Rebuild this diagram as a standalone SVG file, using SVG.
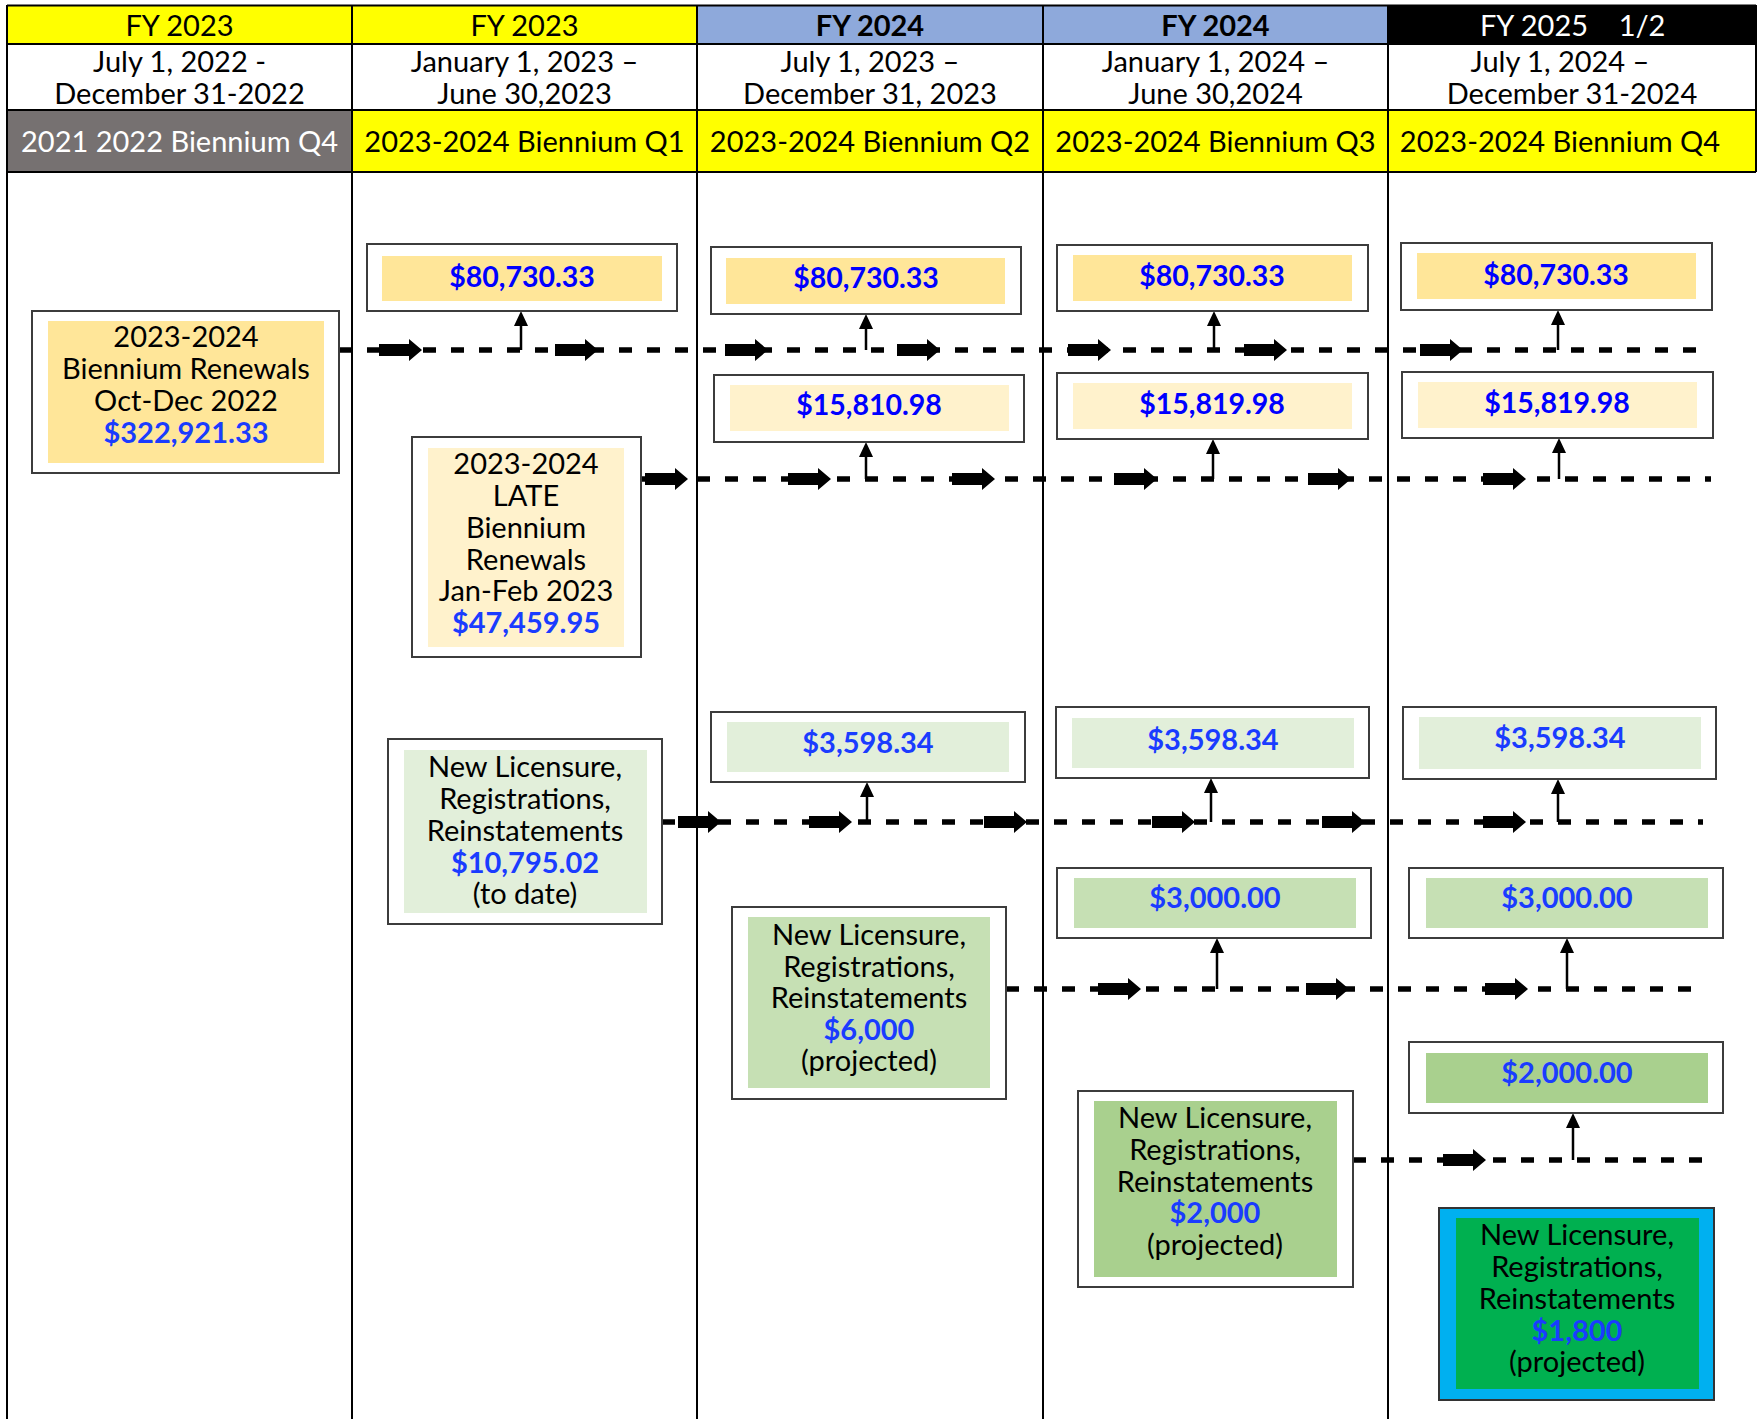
<svg xmlns="http://www.w3.org/2000/svg" xmlns:xlink="http://www.w3.org/1999/xlink" width="1758" height="1419" viewBox="0 0 1758 1419">
<style>
.t{font-family:Lato,"Open Sans","DejaVu Sans",sans-serif;font-size:29px;text-anchor:middle;fill:#000}
.h{font-size:29px}
.b{font-weight:bold}
.w{fill:#fff}
.a1{font-weight:bold;font-size:28.5px;fill:#0000FF}
.a2{font-weight:bold;font-size:29px;fill:#1A3CFF}
.box{fill:#fff;stroke:#3c3c3c;stroke-width:2}
.dash{stroke:#000;stroke-width:5.5;stroke-dasharray:13 15;fill:none}
.vl{stroke:#000;stroke-width:2.5;fill:none}
.grid{stroke:#000;stroke-width:2;fill:none}
</style>
<defs>
<path id="blk" d="M0,-6 H30 V-11 L43,0 L30,11 V6 H0 Z" fill="#000"/>
<path id="up" d="M0,0 L-7,15 L7,15 Z" fill="#000"/>
</defs>
<rect x="0" y="0" width="1758" height="1419" fill="#fff"/>
<g id="header">
<rect x="7" y="5" width="345" height="39" fill="#FFFF00"/>
<rect x="352" y="5" width="345" height="39" fill="#FFFF00"/>
<rect x="697" y="5" width="346" height="39" fill="#8EA9DB"/>
<rect x="1043" y="5" width="345" height="39" fill="#8EA9DB"/>
<rect x="1388" y="5" width="368" height="39" fill="#000"/>
<rect x="7" y="110" width="345" height="62" fill="#767171"/>
<rect x="352" y="110" width="1404" height="62" fill="#FFFF00"/>
<text class="t h" x="179.5" y="36">FY 2023</text>
<text class="t h" x="524.5" y="36">FY 2023</text>
<text class="t h b" x="870" y="36">FY 2024</text>
<text class="t h b" x="1215.5" y="36">FY 2024</text>
<text class="t h w"><tspan x="1534" y="36">FY 2025</tspan><tspan x="1642" y="36">1/2</tspan></text>
<text class="t h"><tspan x="179.5" y="72">July 1, 2022 -</tspan><tspan x="179.5" y="103.5">December 31-2022</tspan></text>
<text class="t h"><tspan x="524.5" y="72">January 1, 2023 –</tspan><tspan x="524.5" y="103.5">June 30,2023</tspan></text>
<text class="t h"><tspan x="870" y="72">July 1, 2023 –</tspan><tspan x="870" y="103.5">December 31, 2023</tspan></text>
<text class="t h"><tspan x="1215.5" y="72">January 1, 2024 –</tspan><tspan x="1215.5" y="103.5">June 30,2024</tspan></text>
<text class="t h"><tspan x="1560" y="72">July 1, 2024 –</tspan><tspan x="1572" y="103.5">December 31-2024</tspan></text>
<text class="t h w" x="179.5" y="152">2021 2022 Biennium Q4</text>
<text class="t h" x="524.5" y="152">2023-2024 Biennium Q1</text>
<text class="t h" x="870" y="152">2023-2024 Biennium Q2</text>
<text class="t h" x="1215.5" y="152">2023-2024 Biennium Q3</text>
<text class="t h" x="1560" y="152">2023-2024 Biennium Q4</text>
<path class="grid" stroke-width="3" d="M7,5.5 H1756"/>
<path class="grid" d="M7,44 H1756 M7,110 H1756 M7,172 H1756 M1756,5 V172"/>
<path class="grid" d="M7,5 V1419 M352,5 V1419 M697,5 V1419 M1043,5 V1419 M1388,5 V1419"/>
</g>
<g id="connectors">
<path class="dash" d="M339,350 H1711"/>
<path class="dash" d="M641,479 H1711"/>
<path class="dash" d="M662,822 H1703"/>
<path class="dash" d="M1006,989 H1696"/>
<path class="dash" d="M1353,1160 H1705"/>
<use xlink:href="#blk" x="379" y="350"/><use xlink:href="#blk" x="555" y="350"/><use xlink:href="#blk" x="725" y="350"/><use xlink:href="#blk" x="897" y="350"/><use xlink:href="#blk" x="1068" y="350"/><use xlink:href="#blk" x="1244" y="350"/><use xlink:href="#blk" x="1420" y="350"/>
<use xlink:href="#blk" x="645" y="479"/><use xlink:href="#blk" x="788" y="479"/><use xlink:href="#blk" x="952" y="479"/><use xlink:href="#blk" x="1114" y="479"/><use xlink:href="#blk" x="1308" y="479"/><use xlink:href="#blk" x="1483" y="479"/>
<use xlink:href="#blk" x="678" y="822"/><use xlink:href="#blk" x="809" y="822"/><use xlink:href="#blk" x="984" y="822"/><use xlink:href="#blk" x="1152" y="822"/><use xlink:href="#blk" x="1322" y="822"/><use xlink:href="#blk" x="1483" y="822"/>
<use xlink:href="#blk" x="1098" y="989"/><use xlink:href="#blk" x="1306" y="989"/><use xlink:href="#blk" x="1485" y="989"/>
<use xlink:href="#blk" x="1443" y="1160"/>
<path class="vl" d="M521,350 V320 M866,350 V323 M1214,350 V320 M1558,350 V319"/>
<use xlink:href="#up" x="521" y="311"/><use xlink:href="#up" x="866" y="314"/><use xlink:href="#up" x="1214" y="311"/><use xlink:href="#up" x="1558" y="310"/>
<path class="vl" d="M866,479 V451 M1213,479 V448 M1559,479 V447"/>
<use xlink:href="#up" x="866" y="442"/><use xlink:href="#up" x="1213" y="439"/><use xlink:href="#up" x="1559" y="438"/>
<path class="vl" d="M867,822 V791 M1211,822 V787 M1558,822 V788"/>
<use xlink:href="#up" x="867" y="782"/><use xlink:href="#up" x="1211" y="778"/><use xlink:href="#up" x="1558" y="779"/>
<path class="vl" d="M1217,989 V947 M1567,989 V947"/>
<use xlink:href="#up" x="1217" y="938"/><use xlink:href="#up" x="1567" y="938"/>
<path class="vl" d="M1573,1160 V1122"/>
<use xlink:href="#up" x="1573" y="1113"/>
</g>
<g id="nodeA">
<rect class="box" x="32" y="311" width="307" height="162"/>
<rect x="48" y="321" width="276" height="142" fill="#FFE699"/>
<text class="t"><tspan x="186" y="347">2023-2024</tspan><tspan x="186" y="379">Biennium Renewals</tspan><tspan x="186" y="411">Oct-Dec 2022</tspan><tspan class="a2" x="186" y="443">$322,921.33</tspan></text>
</g>
<g id="nodeB1"><rect class="box" x="367" y="244" width="310" height="67"/><rect x="382" y="256" width="280" height="45" fill="#FFE699"/><text class="t a1" x="522" y="287">$80,730.33</text></g>
<g id="nodeB2"><rect class="box" x="711" y="247" width="310" height="67"/><rect x="726" y="258" width="279" height="46" fill="#FFE699"/><text class="t a1" x="866" y="288">$80,730.33</text></g>
<g id="nodeB3"><rect class="box" x="1057" y="245" width="311" height="66"/><rect x="1073" y="255" width="279" height="46" fill="#FFE699"/><text class="t a1" x="1212" y="286">$80,730.33</text></g>
<g id="nodeB4"><rect class="box" x="1401" y="243" width="311" height="67"/><rect x="1417" y="253" width="279" height="46" fill="#FFE699"/><text class="t a1" x="1556" y="285">$80,730.33</text></g>
<g id="nodeC">
<rect class="box" x="412" y="437" width="229" height="220"/>
<rect x="428" y="448" width="196" height="199" fill="#FFF2CC"/>
<text class="t"><tspan x="526" y="474">2023-2024</tspan><tspan x="526" y="506">LATE</tspan><tspan x="526" y="538">Biennium</tspan><tspan x="526" y="569.5">Renewals</tspan><tspan x="526" y="601">Jan-Feb 2023</tspan><tspan class="a2" x="526" y="632.5">$47,459.95</tspan></text>
</g>
<g id="nodeC1"><rect class="box" x="714" y="375" width="310" height="67"/><rect x="730" y="385" width="279" height="46" fill="#FFF2CC"/><text class="t a1" x="869" y="415">$15,810.98</text></g>
<g id="nodeC2"><rect class="box" x="1057" y="373" width="311" height="66"/><rect x="1073" y="383" width="279" height="46" fill="#FFF2CC"/><text class="t a1" x="1212" y="414">$15,819.98</text></g>
<g id="nodeC3"><rect class="box" x="1402" y="372" width="311" height="66"/><rect x="1418" y="382" width="279" height="46" fill="#FFF2CC"/><text class="t a1" x="1557" y="413">$15,819.98</text></g>
<g id="nodeD">
<rect class="box" x="388" y="739" width="274" height="185"/>
<rect x="404" y="750" width="243" height="163" fill="#E2EFDA"/>
<text class="t"><tspan x="525" y="777">New Licensure,</tspan><tspan x="525" y="809">Registrations,</tspan><tspan x="525" y="840.5">Reinstatements</tspan><tspan class="a2" x="525" y="872.5">$10,795.02</tspan><tspan x="525" y="904">(to date)</tspan></text>
</g>
<g id="nodeD1"><rect class="box" x="711" y="712" width="314" height="70"/><rect x="727" y="722" width="282" height="50" fill="#E2EFDA"/><text class="t a2" x="868" y="753">$3,598.34</text></g>
<g id="nodeD2"><rect class="box" x="1056" y="707" width="313" height="71"/><rect x="1072" y="718" width="282" height="50" fill="#E2EFDA"/><text class="t a2" x="1213" y="750">$3,598.34</text></g>
<g id="nodeD3"><rect class="box" x="1403" y="707" width="313" height="72"/><rect x="1419" y="717" width="282" height="52" fill="#E2EFDA"/><text class="t a2" x="1560" y="748">$3,598.34</text></g>
<g id="nodeE">
<rect class="box" x="732" y="907" width="274" height="192"/>
<rect x="748" y="917" width="242" height="171" fill="#C6E0B4"/>
<text class="t"><tspan x="869" y="945">New Licensure,</tspan><tspan x="869" y="976.5">Registrations,</tspan><tspan x="869" y="1008">Reinstatements</tspan><tspan class="a2" x="869" y="1039.5">$6,000</tspan><tspan x="869" y="1071">(projected)</tspan></text>
</g>
<g id="nodeE1"><rect class="box" x="1057" y="868" width="314" height="70"/><rect x="1074" y="878" width="282" height="50" fill="#C6E0B4"/><text class="t a2" x="1215" y="908">$3,000.00</text></g>
<g id="nodeE2"><rect class="box" x="1409" y="868" width="314" height="70"/><rect x="1426" y="878" width="282" height="50" fill="#C6E0B4"/><text class="t a2" x="1567" y="908">$3,000.00</text></g>
<g id="nodeF">
<rect class="box" x="1078" y="1091" width="275" height="196"/>
<rect x="1094" y="1101" width="243" height="176" fill="#A9D08E"/>
<text class="t"><tspan x="1215" y="1128">New Licensure,</tspan><tspan x="1215" y="1160">Registrations,</tspan><tspan x="1215" y="1191.5">Reinstatements</tspan><tspan class="a2" x="1215" y="1223">$2,000</tspan><tspan x="1215" y="1255">(projected)</tspan></text>
</g>
<g id="nodeF1"><rect class="box" x="1409" y="1042" width="314" height="71"/><rect x="1426" y="1053" width="282" height="50" fill="#A9D08E"/><text class="t a2" x="1567" y="1083">$2,000.00</text></g>
<g id="nodeG">
<rect x="1439" y="1208" width="275" height="192" fill="#00B0F0" stroke="#333" stroke-width="2"/>
<rect x="1456" y="1218" width="243" height="171" fill="#00B050"/>
<text class="t"><tspan x="1577" y="1244.5">New Licensure,</tspan><tspan x="1577" y="1276.5">Registrations,</tspan><tspan x="1577" y="1308.5">Reinstatements</tspan><tspan class="a2" x="1577" y="1340.5">$1,800</tspan><tspan x="1577" y="1372">(projected)</tspan></text>
</g>
</svg>
